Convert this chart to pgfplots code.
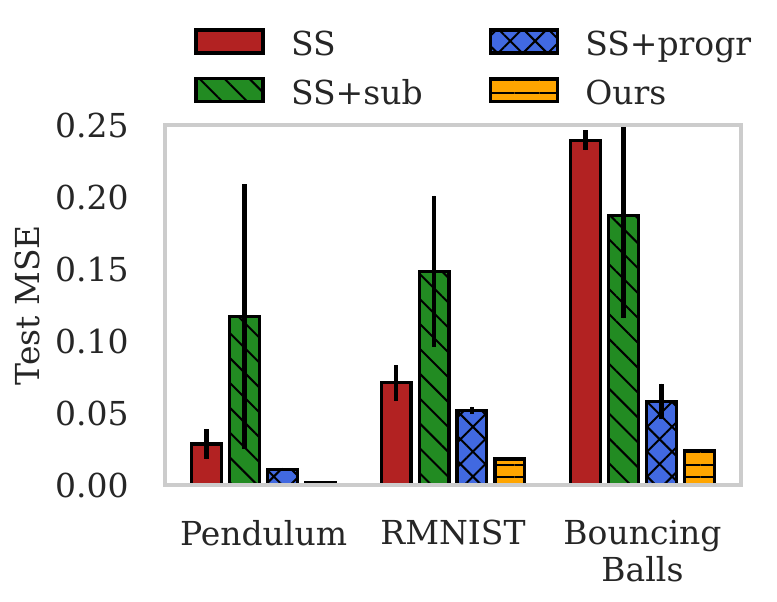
\documentclass[border=0pt]{standalone}
\usepackage{fontspec}
\setmainfont{DejaVu Serif}
\usepackage{pgfplots}
\usepackage{pgfplotstable}
\pgfplotsset{compat=1.18}
\usetikzlibrary{patterns.meta}
\definecolor{cSS}{HTML}{B22222}
\definecolor{cSub}{HTML}{228B22}
\definecolor{cProg}{HTML}{4169E1}
\definecolor{cOurs}{HTML}{FFA500}
\definecolor{cGrid}{HTML}{CCCCCC}
\definecolor{cText}{HTML}{262626}

\pgfplotstableread{
x y e
0 0.0285 0.0105
1 0.071 0.0125
2 0.2395 0.007
}\tSS
\pgfplotstableread{
x y e
0 0.117 0.092
1 0.1485 0.0525
2 0.1874 0.0716
}\tSub
\pgfplotstableread{
x y e
0 0.011 0.001
1 0.052 0.0025
2 0.058 0.0124
}\tProg
\pgfplotstableread{
x y e
0 0.002 0.0003
1 0.018 0.0005
2 0.0237 0.0005
}\tOurs

\pgfplotsset{
  mylegend/.style={legend image code/.code={%
    \draw[##1] (0pt,-3.75pt) rectangle (33.5pt,7.75pt);
    \pgfpathrectangle{\pgfpoint{0pt}{0pt}}{\pgfpoint{47.5pt}{0.1pt}}\pgfusepath{use as bounding box}}},
  myerr/.style={error bars/.cd, y dir=both, y explicit, error mark=none,
    error bar style={line width=2.3pt, black, solid}},
}

\begin{document}
\fontsize{16.5}{18.5}\selectfont
\color{cText}
\begin{tikzpicture}
\begin{axis}[
  scale only axis, width=288pt, height=180pt,
  ybar,
  xmin=-0.52, xmax=2.52, ymin=0, ymax=0.25,
  xtick={0,1,2}, xticklabels={Pendulum,RMNIST,{Bouncing\\Balls}},
  ytick={0,0.05,0.10,0.15,0.20,0.25},
  yticklabel style={/pgf/number format/.cd, fixed, fixed zerofill, precision=2, /tikz/.cd, xshift=-12.5pt},
  /pgf/number format/assume math mode=true,
  tick style={draw=none},
  major tick length=0pt,
  axis line style={draw=cGrid, line width=1.6pt},
  axis on top,
  xticklabel style={align=center, yshift=-12pt},
  ylabel={Test MSE},
  ylabel style={at={(axis description cs:-0.239,0.5)}, anchor=center},
  legend columns=2,
  transpose legend,
  legend cell align=left,
  legend style={draw=none, fill=none, inner sep=0pt,
    at={(axis description cs:0.0505,1.271)}, anchor=north west,
    row sep=6.5pt,
    nodes={inner xsep=0pt, inner ysep=1.5pt},
    /tikz/every even column/.append style={column sep=33pt}},
]
\addplot[bar width=0.157, bar shift=-0.3, fill=cSS, draw=black, line width=1.6pt, mylegend, myerr]
  table[x=x, y=y, y error=e]{\tSS};
\addlegendentry{SS}
\addplot[bar width=0.157, bar shift=-0.1, fill=cSub, draw=black, line width=1.6pt,
  postaction={pattern={Lines[angle=-45, distance=8.8pt, line width=1pt]}, pattern color=black},
  mylegend, myerr]
  table[x=x, y=y, y error=e]{\tSub};
\addlegendentry{SS+sub}
\addplot[bar width=0.157, bar shift=0.1, fill=cProg, draw=black, line width=1.6pt,
  postaction={pattern={Hatch[angle=45, distance=8.8pt, line width=1pt]}, pattern color=black},
  mylegend, myerr]
  table[x=x, y=y, y error=e]{\tProg};
\addlegendentry{SS+progr}
\addplot[bar width=0.157, bar shift=0.3, fill=cOurs, draw=black, line width=1.6pt,
  postaction={pattern={Lines[angle=0, distance=6.2pt, line width=1pt]}, pattern color=black},
  mylegend, myerr]
  table[x=x, y=y, y error=e]{\tOurs};
\addlegendentry{Ours}
\coordinate (ll) at (rel axis cs:0,0);
\end{axis}
\pgfresetboundingbox
\path (ll) ++(-82.5pt,-58pt) rectangle ++(388.5pt,300.5pt);
\end{tikzpicture}
\end{document}
